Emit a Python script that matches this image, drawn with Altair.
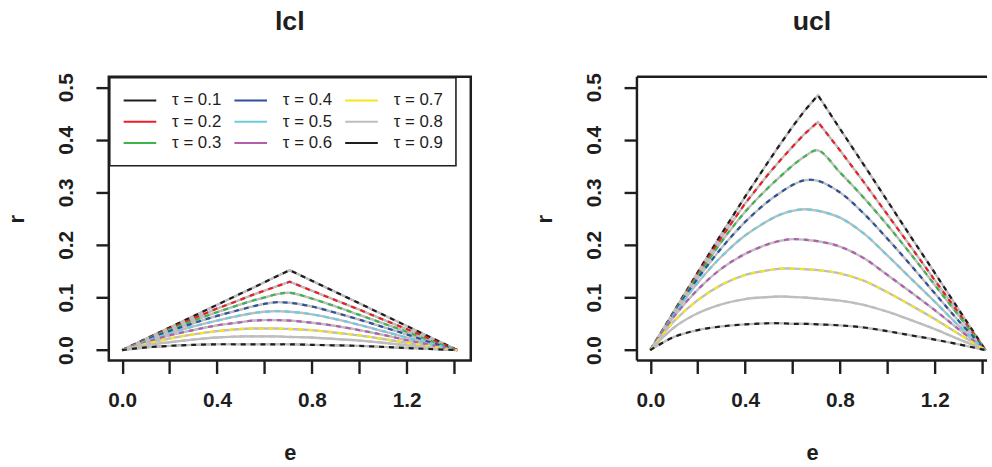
import altair as alt
import pandas as pd

FONT = "Liberation Sans"
INK = "#1e1e1e"

# ---- data ----
E_GRID = [0.0, 0.1, 0.2, 0.3, 0.4, 0.5, 0.55, 0.6, 0.65, 0.7071, 0.8, 0.9, 1.0, 1.1, 1.2, 1.3, 1.4142]
TAUS = ["0.1", "0.2", "0.3", "0.4", "0.5", "0.6", "0.7", "0.8", "0.9"]
TAU_LABELS = ["τ = " + t for t in TAUS]
TAU_COLORS = ["#1e1e1e", "#ee1c25", "#3db54a", "#2f4f9f", "#6dcbe0",
              "#b35daf", "#f5e61a", "#bebebe", "#1e1e1e"]

lcl_01 = [0, .0215, .043, .0645, .086, .1075, .118, .129, .14, .152, .132, .1105, .089, .0675, .046, .0245, 0]
lcl_02 = [0, .021, .041, .06, .079, .096, .105, .113, .121, .13, .113, .095, .077, .058, .04, .021, 0]
lcl_03 = [0, .02, .039, .056, .072, .087, .094, .1, .106, .109, .098, .083, .067, .051, .035, .018, 0]
lcl_04 = [0, .019, .036, .051, .065, .077, .083, .088, .091, .09, .083, .071, .058, .044, .03, .015, 0]
lcl_05 = [0, .017, .032, .045, .056, .066, .07, .073, .074, .073, .068, .059, .048, .036, .024, .012, 0]
lcl_06 = [0, .015, .028, .038, .047, .053, .056, .057, .057, .056, .052, .046, .038, .029, .019, .01, 0]
lcl_07 = [0, .012, .022, .03, .036, .04, .041, .041, .041, .04, .038, .033, .028, .021, .014, .007, 0]
lcl_08 = [0, .009, .015, .02, .024, .026, .026, .026, .026, .025, .024, .021, .018, .014, .009, .005, 0]
lcl_09 = [0, .005, .008, .01, .011, .011, .011, .011, .011, .011, .01, .009, .008, .006, .004, .002, 0]

ucl_01 = [0, .074, .148, .221, .292, .36, .393, .425, .455, .485, .421, .353, .284, .215, .147, .078, 0]
ucl_02 = [0, .073, .145, .214, .279, .336, .362, .387, .411, .434, .38, .32, .258, .196, .133, .071, 0]
ucl_03 = [0, .072, .141, .206, .263, .31, .331, .351, .368, .38, .338, .29, .238, .182, .124, .066, 0]
ucl_04 = [0, .07, .136, .194, .244, .284, .3, .314, .323, .322, .3, .26, .212, .161, .108, .056, 0]
ucl_05 = [0, .068, .128, .178, .218, .247, .258, .265, .268, .265, .252, .222, .18, .136, .092, .047, 0]
ucl_06 = [0, .064, .115, .155, .183, .202, .208, .211, .21, .207, .197, .175, .143, .11, .076, .04, 0]
ucl_07 = [0, .055, .095, .124, .143, .152, .155, .155, .154, .152, .146, .132, .11, .085, .059, .031, 0]
ucl_08 = [0, .043, .07, .087, .097, .101, .102, .101, .1, .098, .094, .086, .073, .057, .04, .021, 0]
ucl_09 = [0, .025, .038, .045, .049, .051, .051, .05, .05, .049, .047, .043, .036, .028, .02, .011, 0]

LCL = [lcl_01, lcl_02, lcl_03, lcl_04, lcl_05, lcl_06, lcl_07, lcl_08, lcl_09]
UCL = [ucl_01, ucl_02, ucl_03, ucl_04, ucl_05, ucl_06, ucl_07, ucl_08, ucl_09]

X_TICKS = [0.0, 0.2, 0.4, 0.6, 0.8, 1.0, 1.2, 1.4]
Y_TICKS = [0.0, 0.1, 0.2, 0.3, 0.4, 0.5]

rows = []
for panel, curves in (("lcl", LCL), ("ucl", UCL)):
    for i, vals in enumerate(curves):
        for e, r in zip(E_GRID, vals):
            rows.append({"panel": panel, "label": TAU_LABELS[i], "idx": i,
                         "smooth": i >= 2, "e": e, "r": r})
df = pd.DataFrame(rows)

PLOT_W = 366
PLOT_H = 287
X_MIN = -0.05657
X_MAX_FULL = 1.47078
RIGHT_W = 354
X_MAX_RIGHT = X_MIN + RIGHT_W * (X_MAX_FULL - X_MIN) / PLOT_W

x_axis = alt.Axis(
    values=X_TICKS,
    labelExpr="indexof(['0.0','0.4','0.8','1.2'], format(datum.value, '.1f')) >= 0 ? format(datum.value, '.1f') : ''",
    domain=False, grid=False, tickSize=13, tickWidth=2.4, tickColor=INK,
    labelFont=FONT, labelFontSize=21, labelFontWeight="bold", labelColor=INK,
    labelPadding=16, labelFlush=False, labelOverlap=False,
    titleFont=FONT, titleFontSize=22, titleFontWeight="bold", titleColor=INK,
    titlePadding=33,
)
y_axis = alt.Axis(
    values=Y_TICKS, format=".1f",
    domain=False, grid=False, tickSize=13, tickWidth=2.4, tickColor=INK,
    labelFont=FONT, labelFontSize=21, labelFontWeight="bold", labelColor=INK,
    labelAngle=270, labelAlign="center", labelBaseline="alphabetic",
    labelPadding=24, labelFlush=False, labelOverlap=False,
    titleFont=FONT, titleFontSize=22, titleFontWeight="bold", titleColor=INK,
    titlePadding=27,
)

legend = alt.Legend(
    orient="none", legendX=1, legendY=1, title=None, columns=3,
    symbolType="stroke", symbolSize=1089, symbolStrokeWidth=2,
    labelFont=FONT, labelFontSize=17, labelFontWeight="normal", labelColor=INK,
    labelOffset=15, columnPadding=12, rowPadding=1.5, clipHeight=20,
    padding=13, fillColor="white", strokeColor=INK, cornerRadius=0,
)


def make_panel(name, x_max, with_legend):
    data = df[df.panel == name]
    x = alt.X("e:Q", title="e", axis=x_axis,
              scale=alt.Scale(domain=[X_MIN, x_max], nice=False, zero=False))
    y = alt.Y("r:Q", title="r", axis=y_axis,
              scale=alt.Scale(domain=[-0.02, 0.52], nice=False, zero=False))
    cscale = alt.Scale(domain=TAU_LABELS, range=TAU_COLORS)
    hidden, grays, dashes = [], [], []
    for smooth, interp in ((False, "linear"), (True, "catmull-rom")):
        sub = data[data.smooth == smooth]
        if with_legend:
            hidden.append(alt.Chart(sub).mark_line(strokeWidth=1.6, interpolate=interp).encode(
                x=x, y=y, color=alt.Color("label:N", scale=cscale, legend=legend),
                order="e:Q"))
        grays.append(alt.Chart(sub).mark_line(color="#bebebe", strokeWidth=2.4, interpolate=interp).encode(
            x=x, y=y, detail="label:N", order="e:Q"))
        dashes.append(alt.Chart(sub).mark_line(strokeWidth=2.2, strokeDash=[5, 5], interpolate=interp).encode(
            x=x, y=y, color=alt.Color("label:N", scale=cscale, legend=None), order="e:Q"))
    layers = hidden + grays + dashes
    title = alt.TitleParams(text=name, font=FONT, fontSize=27, fontWeight="bold", color=INK,
                            anchor="middle", frame="group", baseline="alphabetic", offset=16)
    return layers, title


left_layers, left_title = make_panel("lcl", X_MAX_FULL, True)
left = alt.layer(*left_layers).properties(width=PLOT_W, height=PLOT_H, title=left_title)

right_layers, right_title = make_panel("ucl", X_MAX_RIGHT, False)
one = pd.DataFrame({"k": [0]})
frame_top = alt.Chart(one).mark_rule(color=INK, strokeWidth=2.5).encode(
    x=alt.value(0), x2=alt.value(RIGHT_W), y=alt.value(0))
frame_left = alt.Chart(one).mark_rule(color=INK, strokeWidth=2.5).encode(
    x=alt.value(0), y=alt.value(0), y2=alt.value(PLOT_H))
frame_bottom = alt.Chart(one).mark_rule(color=INK, strokeWidth=2.5).encode(
    x=alt.value(0), x2=alt.value(RIGHT_W), y=alt.value(PLOT_H))
right = alt.layer(*right_layers, frame_top, frame_left, frame_bottom).properties(
    width=RIGHT_W, height=PLOT_H, title=right_title,
    view=alt.ViewBackground(stroke="transparent"))

chart = (
    alt.hconcat(left, right, spacing=60)
    .resolve_scale(color="independent")
    .resolve_legend(color="independent")
    .properties(padding={"left": 4, "top": 4, "right": 0, "bottom": 0}, background="white")
    .configure_view(stroke=INK, strokeWidth=2.5)
    .configure_legend(strokeWidth=1.6)
)

chart.save("out.html", embed_options={"renderer": "svg", "actions": False})
